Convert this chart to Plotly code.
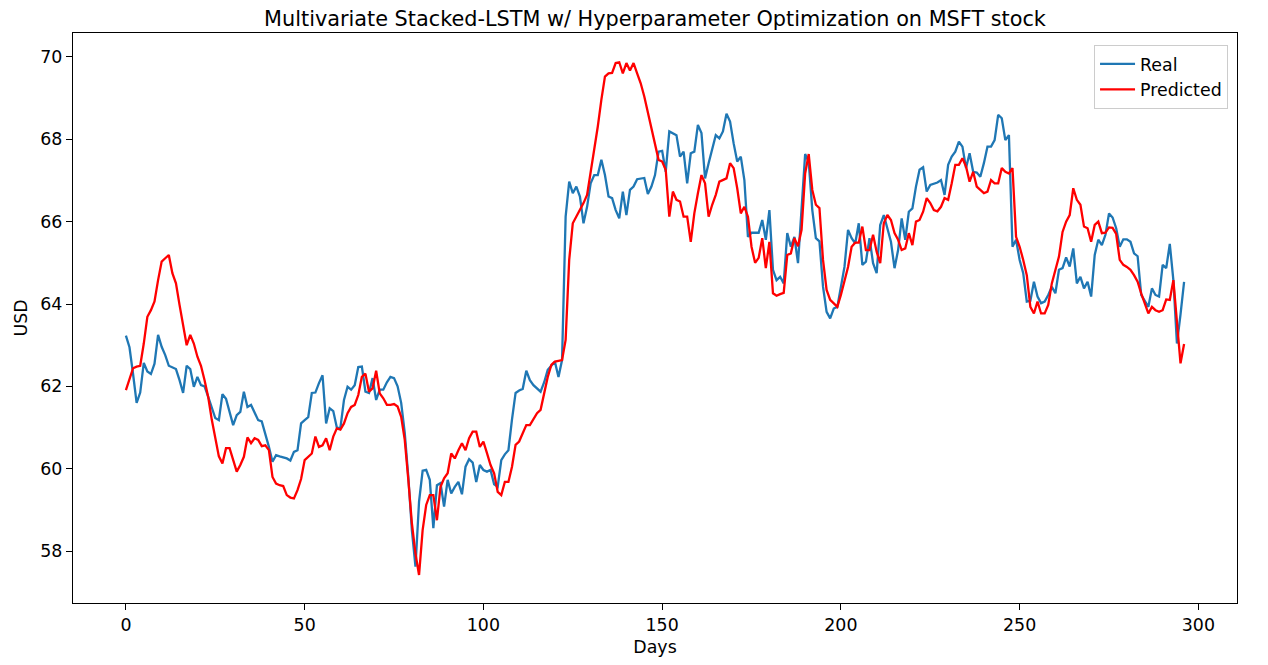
import plotly.graph_objects as go

# Real MSFT closing prices (USD), one value per day
real = [
    63.23, 62.95, 62.3, 61.6, 61.85, 62.57, 62.36, 62.3, 62.55, 63.25,
    62.96, 62.76, 62.5, 62.45, 62.42, 62.15, 61.84, 62.5, 62.42, 61.99,
    62.23, 62.03, 62.0, 61.75, 61.5, 61.23, 61.18, 61.81, 61.7, 61.35,
    61.06, 61.3, 61.38, 61.87, 61.5, 61.55, 61.35, 61.18, 61.15, 60.87,
    60.53, 60.17, 60.33, 60.3, 60.28, 60.25, 60.2, 60.41, 60.45, 61.1,
    61.18, 61.25, 61.84, 61.85, 62.08, 62.27, 61.1, 61.47, 61.4, 61.0,
    60.99, 61.67, 61.99, 61.92, 62.03, 62.47, 62.48, 61.87, 61.84, 62.2,
    61.67, 61.92, 61.92, 62.1, 62.23, 62.2, 62.0, 61.6, 60.87, 59.8,
    58.5, 57.62, 59.2, 59.95, 59.97, 59.73, 58.56, 59.6, 59.65, 59.08,
    59.73, 59.4, 59.56, 59.68, 59.38, 60.05, 60.23, 60.15, 59.68, 60.09,
    59.97, 59.93, 59.97, 59.62, 59.56, 60.21, 60.35, 60.45, 61.2, 61.84,
    61.9, 61.94, 62.38, 62.15, 62.03, 61.95, 61.87, 62.1, 62.4, 62.5,
    62.6, 62.23, 62.64, 66.12, 66.97, 66.69, 66.85, 66.61, 65.96, 66.36,
    66.93, 67.13, 67.13, 67.5, 67.13, 66.61, 66.57, 66.28, 66.08, 66.73,
    66.16, 66.77, 66.85, 67.03, 67.05, 67.06, 66.67, 66.85, 67.13, 67.7,
    67.72, 67.21, 68.19, 68.15, 68.1, 67.58, 67.7, 66.93, 67.66, 67.7,
    68.35, 68.15, 67.05, 67.42, 67.74, 68.1, 68.02, 68.19, 68.62, 68.43,
    67.9, 67.46, 67.58, 67.01, 65.63, 65.73, 65.73, 65.73, 66.04, 65.56,
    66.28, 64.83, 64.58, 64.66, 64.5, 65.72, 65.39, 65.63, 64.99, 66.2,
    67.64, 67.45, 66.28, 65.6, 65.52, 64.42, 63.81, 63.65, 63.89, 63.93,
    64.42, 64.9, 65.8, 65.6, 65.47, 65.96, 64.95, 65.03, 65.6, 64.99,
    64.75, 65.92, 66.16, 65.8, 65.51, 64.87, 65.31, 66.08, 65.56, 66.24,
    66.32, 66.85, 67.26, 67.32, 66.73, 66.89, 66.93, 66.95, 67.01, 66.65,
    67.38, 67.58, 67.7, 67.94, 67.82, 67.3, 67.66, 67.21, 67.19, 67.09,
    67.42, 67.82, 67.82, 67.98, 68.59, 68.51, 67.98, 68.1, 65.39, 65.56,
    65.07, 64.75, 64.06, 64.08, 64.54, 64.18, 64.02, 64.06, 64.22, 64.42,
    64.26, 64.83, 64.87, 65.13, 64.91, 65.35, 64.5, 64.66, 64.38, 64.54,
    64.18, 65.19, 65.56, 65.43, 65.68, 66.2, 66.1, 65.84, 65.39, 65.57,
    65.57, 65.51, 65.23, 65.16, 64.22, 64.06, 63.93, 64.38, 64.22, 64.18,
    64.95, 64.87, 65.46, 64.58, 63.04, 63.75, 64.54,
]

# Model predictions (USD), one value per day
predicted = [
    61.91, 62.2, 62.44, 62.48, 62.5, 63.04, 63.69, 63.85, 64.06, 64.58,
    65.03, 65.11, 65.19, 64.75, 64.5, 63.98, 63.45, 63.0, 63.25, 63.04,
    62.72, 62.5, 62.15, 61.75, 61.2, 60.75, 60.3, 60.13, 60.5, 60.5,
    60.21, 59.93, 60.09, 60.29, 60.76, 60.62, 60.74, 60.7, 60.55, 60.57,
    60.45, 59.8, 59.64, 59.6, 59.58, 59.36, 59.3, 59.28, 59.48, 59.75,
    60.21, 60.29, 60.37, 60.78, 60.53, 60.57, 60.74, 60.45, 60.78, 60.98,
    60.95, 61.1, 61.35, 61.5, 61.55, 61.79, 62.23, 62.31, 61.87, 61.95,
    62.38, 61.83, 61.71, 61.55, 61.55, 61.57, 61.51, 61.26, 60.7, 59.73,
    58.67, 57.94, 57.42, 58.51, 59.12, 59.36, 59.36, 58.75, 59.56, 59.77,
    59.89, 60.37, 60.25, 60.45, 60.62, 60.45, 60.74, 60.9, 60.9, 60.53,
    60.66, 60.38, 60.09, 59.89, 59.44, 59.36, 59.68, 59.68, 60.05, 60.58,
    60.66, 60.86, 61.06, 61.06, 61.22, 61.35, 61.43, 61.83, 62.23, 62.52,
    62.6, 62.62, 62.64, 63.13, 65.07, 65.96, 66.12, 66.28, 66.45, 66.65,
    67.17, 67.74, 68.31, 68.96, 69.52, 69.6, 69.61, 69.85, 69.87, 69.6,
    69.85, 69.67, 69.85, 69.6, 69.36, 69.04, 68.67, 68.31, 67.9, 67.5,
    67.46, 67.26, 66.12, 66.73, 66.53, 66.49, 66.12, 66.12, 65.51, 66.2,
    66.69, 67.13, 66.93, 66.12, 66.41, 66.65, 66.97, 67.01, 67.05, 67.42,
    67.3, 66.81, 66.2, 66.36, 66.12, 65.39, 65.0, 65.12, 65.6, 64.87,
    65.51, 64.26, 64.2, 64.24, 64.27, 65.19, 65.23, 65.6, 65.4, 65.8,
    67.17, 67.64, 66.77, 66.41, 66.33, 65.07, 64.34, 64.1, 64.02, 63.93,
    64.22, 64.6, 64.9, 65.39, 65.49, 65.49, 65.88, 65.31, 65.31, 65.68,
    65.27, 64.99, 65.96, 66.16, 66.04, 65.72, 65.56, 65.31, 65.35, 65.72,
    65.43, 66.0, 66.04, 66.24, 66.57, 66.45, 66.28, 66.25, 66.36, 66.57,
    66.53, 66.93, 67.38, 67.38, 67.54, 67.34, 66.97, 67.21, 66.85, 66.77,
    66.69, 66.73, 67.01, 66.93, 66.93, 67.3, 67.21, 67.17, 67.3, 65.63,
    65.39, 65.07, 64.7, 63.93, 63.77, 64.06, 63.77, 63.77, 63.98, 64.5,
    64.83, 65.15, 65.75, 66.0, 66.16, 66.81, 66.53, 66.41, 65.88, 65.84,
    65.51, 65.92, 66.0, 65.72, 65.73, 65.86, 65.85, 65.7, 65.07, 64.95,
    64.9, 64.83, 64.7, 64.54, 64.26, 64.02, 63.77, 63.93, 63.85, 63.81,
    63.85, 64.11, 64.1, 64.58, 63.6, 62.56, 63.03,
]

x_ticks = [0, 50, 100, 150, 200, 250, 300]
y_ticks = [58, 60, 62, 64, 66, 68, 70]

FONT = "DejaVu Sans"
FS = 17.4

fig = go.Figure()
fig.add_trace(go.Scatter(
    x=list(range(len(real))), y=real, mode="lines", name="Real",
    line=dict(color="#1f77b4", width=2.3),
))
fig.add_trace(go.Scatter(
    x=list(range(len(predicted))), y=predicted, mode="lines", name="Predicted",
    line=dict(color="#ff0000", width=2.3),
))

axis_common = dict(
    showline=True, linecolor="black", linewidth=1.4, mirror=True,
    ticks="outside", ticklen=6, tickwidth=1.4, tickcolor="black",
    showgrid=False, zeroline=False,
    tickfont=dict(family=FONT, size=FS, color="black"),
)

fig.update_layout(
    width=1268, height=665,
    margin=dict(l=65, r=39, t=25, b=70),
    paper_bgcolor="white", plot_bgcolor="white",
    font=dict(family=FONT, size=FS, color="black"),
    title=dict(
        text="Multivariate Stacked-LSTM w/ Hyperparameter Optimization on MSFT stock",
        x=0.5, xref="paper", xanchor="center",
        y=1 - 11 / 665, yref="container", yanchor="middle",
        font=dict(family=FONT, size=20.8, color="black"),
    ),
    xaxis=dict(
        range=[-14.8, 310.8], tickvals=x_ticks,
        title=dict(text="Days", standoff=6, font=dict(family=FONT, size=FS)),
        **axis_common,
    ),
    yaxis=dict(
        range=[56.74, 70.58], tickvals=y_ticks,
        title=dict(text="USD", standoff=8, font=dict(family=FONT, size=FS)),
        **axis_common,
    ),
    legend=dict(
        x=0.9923, y=0.979, xanchor="right", yanchor="top",
        bgcolor="rgba(255,255,255,0.8)", bordercolor="#cccccc", borderwidth=1,
        font=dict(family=FONT, size=FS),
        itemwidth=35,
    ),
    showlegend=True,
)

fig.write_html("out.html")
